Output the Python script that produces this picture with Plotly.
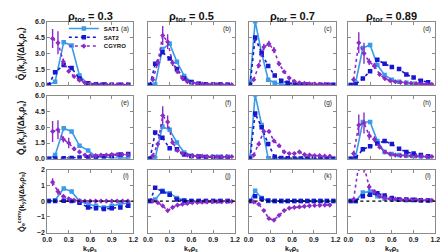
import plotly.graph_objects as go

W, H = 448, 252

RHO = ["0.3", "0.5", "0.7", "0.89"]
PANEL_LABELS = ["(a)", "(b)", "(c)", "(d)", "(e)", "(f)", "(g)", "(h)", "(i)", "(j)", "(k)", "(l)"]
XTICKS = [0.0, 0.3, 0.6, 0.9, 1.2]
YTICKS_Q = [0.0, 1.5, 3.0, 4.5, 6.0]
YTICKS_C = [-2, -1, 0, 1, 2]

# ky grids (SAT models and CGYRO) per radius
KY_SAT_03 = [0.02, 0.11, 0.23, 0.34, 0.45, 0.57, 0.68, 0.79, 0.90, 1.02, 1.13]
KY_SAT_05 = [0.03, 0.10, 0.20, 0.30, 0.40, 0.50, 0.60, 0.70, 0.80, 0.90, 1.00, 1.10]
KY_SAT_07 = [0.02, 0.09, 0.18, 0.27, 0.36, 0.45, 0.54, 0.63, 0.72, 0.81, 0.90, 0.99, 1.08, 1.17]
KY_SAT_089 = [0.03, 0.10, 0.20, 0.30, 0.40, 0.50, 0.60, 0.70, 0.80, 0.90, 1.00, 1.10]

KY_CG_03 = [0.075, 0.15, 0.225, 0.30, 0.375, 0.45, 0.525, 0.60, 0.675, 0.75, 0.825, 0.90, 0.975, 1.05, 1.125]
KY_CG_05 = [0.068, 0.136, 0.204, 0.272, 0.34, 0.408, 0.476, 0.544, 0.612, 0.68, 0.748, 0.816, 0.884, 0.952, 1.02, 1.088, 1.156]
KY_CG_07 = [0.07, 0.14, 0.21, 0.28, 0.35, 0.42, 0.49, 0.56, 0.63, 0.70, 0.77, 0.84, 0.91, 0.98, 1.05, 1.12]
KY_CG_089 = [0.072, 0.144, 0.216, 0.288, 0.36, 0.432, 0.504, 0.576, 0.648, 0.72, 0.792, 0.864, 0.936, 1.008, 1.08, 1.152]

# ---- Row 1: Qi ----
QI_SAT1_03 = [0, 0.3, 4.05, 3.75, 0.9, 0.05, 0.02, 0.01, 0.0, 0.0, 0.0]
QI_SAT2_03 = [0, 1.2, 1.9, 1.6, 0.6, 0.15, 0.06, 0.03, 0.02, 0.01, 0.01]
QI_CG_03 = [4.4, 4.0, 2.2, 1.3, 0.8, 0.45, 0.2, 0.1, 0.05, 0.04, 0.03, 0.03, 0.02, 0.02, 0.02]
QI_CGE_03 = [0.9, 1.1, 0.3, 0.2, 0.15, 0.1, 0.05, 0.03, 0.02, 0.02, 0.02, 0.02, 0.02, 0.02, 0.02]

QI_SAT1_05 = [0, 0.05, 3.4, 3.9, 2.2, 0.85, 0.3, 0.12, 0.06, 0.04, 0.03, 0.02]
QI_SAT2_05 = [0, 2.0, 3.1, 2.5, 1.5, 0.6, 0.25, 0.1, 0.06, 0.04, 0.03, 0.02]
QI_CG_05 = [0.5, 2.1, 4.7, 4.1, 2.1, 1.25, 0.65, 0.3, 0.15, 0.1, 0.08, 0.06, 0.05, 0.04, 0.03, 0.03, 0.02]
QI_CGE_05 = [0.1, 0.3, 0.9, 0.7, 0.3, 0.2, 0.1, 0.05, 0.03, 0.02, 0.02, 0.02, 0.02, 0.02, 0.02, 0.02, 0.02]

QI_SAT1_07 = [0.3, 6.05, 3.0, 0.5, 0.2, 0.05, 0.02, 0.01, 0.0, 0.0, 0.0, 0.0, 0.0, 0.0]
QI_SAT2_07 = [0, 4.5, 3.0, 1.8, 0.9, 0.4, 0.2, 0.1, 0.05, 0.03, 0.02, 0.02, 0.01, 0.01]
QI_CG_07 = [0.5, 1.85, 3.6, 3.9, 3.3, 2.0, 1.25, 0.65, 0.35, 0.2, 0.15, 0.1, 0.08, 0.06, 0.05, 0.04]
QI_CGE_07 = [0.05, 0.2, 0.3, 0.3, 0.3, 0.2, 0.1, 0.08, 0.05, 0.03, 0.02, 0.02, 0.02, 0.02, 0.02, 0.02]

QI_SAT1_089 = [0, 0.2, 3.5, 3.8, 1.9, 0.95, 0.5, 0.3, 0.2, 0.12, 0.08, 0.05]
QI_SAT2_089 = [0, 0.05, 0.6, 1.3, 2.4, 2.0, 1.7, 1.5, 1.0, 0.7, 0.4, 0.25]
QI_CG_089 = [0.5, 4.0, 3.0, 2.2, 1.8, 1.0, 0.6, 0.4, 0.3, 0.25, 0.2, 0.15, 0.12, 0.1, 0.08, 0.06]
QI_CGE_089 = [0.1, 1.0, 1.0, 0.3, 0.3, 0.15, 0.1, 0.05, 0.03, 0.03, 0.02, 0.02, 0.02, 0.02, 0.02, 0.02]

# ---- Row 2: Qe ----
QE_SAT1_03 = [0, 0.35, 2.9, 2.6, 1.25, 0.8, 0.2, 0.12, 0.1, 0.08, 0.06]
QE_SAT2_03 = [0, 0.02, 0.05, 0.08, 0.12, 0.15, 0.2, 0.25, 0.3, 0.4, 0.45]
QE_CG_03 = [2.6, 2.75, 1.85, 1.5, 0.95, 0.65, 0.35, 0.3, 0.3, 0.35, 0.35, 0.4, 0.4, 0.4, 0.4]
QE_CGE_03 = [1.0, 0.9, 0.3, 0.5, 0.2, 0.15, 0.1, 0.05, 0.05, 0.05, 0.05, 0.05, 0.05, 0.05, 0.05]

QE_SAT1_05 = [0, 0.05, 3.05, 2.75, 1.55, 0.6, 0.3, 0.25, 0.2, 0.2, 0.2, 0.2]
QE_SAT2_05 = [0, 2.5, 2.0, 1.0, 0.9, 0.4, 0.25, 0.2, 0.15, 0.12, 0.1, 0.1]
QE_CG_05 = [0.3, 1.4, 4.1, 3.5, 1.55, 0.8, 0.5, 0.35, 0.3, 0.25, 0.25, 0.22, 0.2, 0.2, 0.2, 0.2, 0.2]
QE_CGE_05 = [0.05, 0.2, 0.9, 0.6, 0.2, 0.1, 0.05, 0.05, 0.03, 0.03, 0.03, 0.03, 0.03, 0.03, 0.03, 0.03, 0.03]

QE_SAT1_07 = [0.2, 6.1, 3.2, 0.05, 0.02, 0.01, 0.0, 0.0, 0.0, 0.0, 0.0, 0.0, 0.0, 0.0]
QE_SAT2_07 = [0, 4.3, 3.0, 1.4, 0.2, 0.08, 0.05, 0.03, 0.02, 0.02, 0.02, 0.01, 0.01, 0.01]
QE_CG_07 = [0.35, 1.4, 2.6, 2.6, 1.7, 1.25, 0.65, 0.5, 0.5, 0.65, 0.4, 0.35, 0.3, 0.3, 0.25, 0.25]
QE_CGE_07 = [0.05, 0.1, 0.15, 0.15, 0.15, 0.1, 0.05, 0.05, 0.05, 0.05, 0.03, 0.03, 0.03, 0.03, 0.03, 0.03]

QE_SAT1_089 = [0, 0.2, 3.5, 3.5, 1.7, 0.65, 0.45, 0.35, 0.3, 0.25, 0.2, 0.15]
QE_SAT2_089 = [0, 0.05, 0.9, 1.2, 1.45, 1.7, 1.4, 0.95, 0.65, 0.5, 0.35, 0.25]
QE_CG_089 = [0.5, 3.2, 3.4, 2.2, 1.85, 1.1, 0.65, 0.45, 0.35, 0.3, 0.3, 0.28, 0.25, 0.25, 0.22, 0.2]
QE_CGE_089 = [0.1, 1.0, 1.0, 0.4, 0.3, 0.15, 0.1, 0.05, 0.03, 0.03, 0.03, 0.03, 0.03, 0.03, 0.03, 0.03]

# ---- Row 3: Qe conv ----
QC_SAT1_03 = [0, 0.05, 0.8, 0.6, 0.0, -0.2, -0.3, -0.4, -0.3, -0.2, -0.1]
QC_SAT2_03 = [0, 0.0, 0.02, 0.0, -0.1, -0.4, -0.45, -0.5, -0.45, -0.4, -0.3]
QC_CG_03 = [1.2, 0.6, 0.3, 0.15, 0.05, 0.02, 0.0, 0.0, 0.0, 0.0, 0.0, 0.0, 0.0, 0.0, 0.0]
QC_CGE_03 = [0.25, 0.2, 0.1, 0.05, 0.03, 0.02, 0.02, 0.02, 0.02, 0.02, 0.02, 0.02, 0.02, 0.02, 0.02]

QC_SAT1_05 = [0, 0.1, 0.65, 0.5, 0.2, 0.05, 0.0, 0.0, 0.0, 0.0, 0.0, 0.0]
QC_SAT2_05 = [0, 0.85, 0.6, 0.4, 0.1, 0.02, 0.0, 0.0, 0.0, 0.0, 0.0, 0.0]
QC_CG_05 = [0.0, -0.1, -0.3, -0.6, -0.4, -0.25, -0.2, -0.15, -0.1, -0.08, -0.06, -0.05, -0.04, -0.03, -0.03, -0.02, -0.02]
QC_CGE_05 = [0.02, 0.03, 0.05, 0.08, 0.05, 0.03, 0.02, 0.02, 0.02, 0.02, 0.02, 0.02, 0.02, 0.02, 0.02, 0.02, 0.02]

QC_SAT1_07 = [0, 0.65, 0.2, 0.0, 0.0, 0.0, 0.0, 0.0, 0.0, 0.0, 0.0, 0.0, 0.0, 0.0]
QC_SAT2_07 = [0, 0.3, 0.15, 0.03, 0.0, 0.0, 0.0, 0.0, 0.0, 0.0, 0.0, 0.0, 0.0, 0.0]
QC_CG_07 = [-0.05, -0.2, -0.6, -1.1, -1.2, -0.9, -0.6, -0.45, -0.4, -0.37, -0.33, -0.3, -0.28, -0.27, -0.25, -0.25]
QC_CGE_07 = [0.02, 0.03, 0.05, 0.08, 0.08, 0.05, 0.04, 0.03, 0.02, 0.02, 0.02, 0.02, 0.02, 0.02, 0.02, 0.02]

QC_SAT1_089 = [0, 0.0, 0.55, 0.6, 0.3, 0.15, 0.1, 0.08, 0.05, 0.05, 0.04, 0.03]
QC_SAT2_089 = [0, 0.0, 0.3, 0.4, 0.5, 0.35, 0.2, 0.1, 0.1, 0.08, 0.05, 0.04]
QC_CG_089 = [0.1, 2.3, 2.2, 0.9, 0.6, 0.3, 0.2, 0.15, 0.12, 0.1, 0.1, 0.08, 0.08, 0.06, 0.05, 0.05]
QC_CGE_089 = [0.05, 0.4, 0.4, 0.2, 0.1, 0.05, 0.04, 0.03, 0.03, 0.03, 0.03, 0.03, 0.03, 0.03, 0.03, 0.03]

KY_SAT = [KY_SAT_03, KY_SAT_05, KY_SAT_07, KY_SAT_089]
KY_CG = [KY_CG_03, KY_CG_05, KY_CG_07, KY_CG_089]
SAT1 = [[QI_SAT1_03, QI_SAT1_05, QI_SAT1_07, QI_SAT1_089],
        [QE_SAT1_03, QE_SAT1_05, QE_SAT1_07, QE_SAT1_089],
        [QC_SAT1_03, QC_SAT1_05, QC_SAT1_07, QC_SAT1_089]]
SAT2 = [[QI_SAT2_03, QI_SAT2_05, QI_SAT2_07, QI_SAT2_089],
        [QE_SAT2_03, QE_SAT2_05, QE_SAT2_07, QE_SAT2_089],
        [QC_SAT2_03, QC_SAT2_05, QC_SAT2_07, QC_SAT2_089]]
CG = [[QI_CG_03, QI_CG_05, QI_CG_07, QI_CG_089],
      [QE_CG_03, QE_CG_05, QE_CG_07, QE_CG_089],
      [QC_CG_03, QC_CG_05, QC_CG_07, QC_CG_089]]
CGE = [[QI_CGE_03, QI_CGE_05, QI_CGE_07, QI_CGE_089],
       [QE_CGE_03, QE_CGE_05, QE_CGE_07, QE_CGE_089],
       [QC_CGE_03, QC_CGE_05, QC_CGE_07, QC_CGE_089]]

C_SAT1 = "#3a9be8"
C_SAT2 = "#1717d0"
C_CG = "#8b2bc8"
AX = "#8a8a8a"
FONT = "Liberation Sans"

XDOM = [(35, 123), (138, 227), (241, 330), (343, 432)]
YDOM = [(10, 75), (86, 151), (162, 227)]
LEG_Y = [17, 26, 35]

fig = go.Figure()
layout = dict(width=W, height=H, margin=dict(l=0, r=0, t=0, b=0),
              paper_bgcolor="white", plot_bgcolor="white", showlegend=True)
annotations = []
shapes = []

for r in range(3):
    for c in range(4):
        i = r * 4 + c + 1
        xa = "x" if i == 1 else f"x{i}"
        ya = "y" if i == 1 else f"y{i}"
        first = (i == 1)
        fig.add_trace(go.Scatter(
            x=KY_SAT[c], y=SAT1[r][c], xaxis=xa, yaxis=ya, name="SAT1",
            mode="lines+markers", showlegend=first, legend="legend",
            line=dict(color=C_SAT1, width=1.6),
            marker=dict(symbol="square", size=4.5, color=C_SAT1)))
        fig.add_trace(go.Scatter(
            x=KY_SAT[c], y=SAT2[r][c], xaxis=xa, yaxis=ya, name="SAT2",
            mode="lines+markers", showlegend=first, legend="legend2",
            line=dict(color=C_SAT2, width=1.6, dash="dot"),
            marker=dict(symbol="square", size=4.5, color=C_SAT2)))
        fig.add_trace(go.Scatter(
            x=KY_CG[c], y=CG[r][c], xaxis=xa, yaxis=ya, name="CGYRO",
            mode="lines+markers", showlegend=first, legend="legend3",
            line=dict(color=C_CG, width=1.6, dash="dot"),
            marker=dict(symbol="diamond", size=4, color=C_CG),
            error_y=dict(type="data", array=CGE[r][c], color=C_CG, thickness=1.4, width=0)))

        xd = [XDOM[c][0] / W, XDOM[c][1] / W]
        yd = [1 - YDOM[r][1] / H, 1 - YDOM[r][0] / H]
        common = dict(showline=True, mirror="ticks", linecolor=AX, linewidth=1,
                      ticks="inside", ticklen=3, tickcolor=AX, showgrid=False,
                      zeroline=False,
                      tickfont=dict(family=FONT, size=7, color="#222", weight="bold"))
        layout["xaxis" if i == 1 else f"xaxis{i}"] = dict(
            common, domain=xd, anchor=ya, range=[0, 1.2], tickvals=XTICKS,
            tickformat=".1f", showticklabels=(r == 2))
        if r < 2:
            layout["yaxis" if i == 1 else f"yaxis{i}"] = dict(
                common, domain=yd, anchor=xa, range=[0, 6], tickvals=YTICKS_Q,
                tickformat=".1f", showticklabels=(c == 0))
        else:
            layout["yaxis" if i == 1 else f"yaxis{i}"] = dict(
                common, domain=yd, anchor=xa, range=[-2, 2], tickvals=YTICKS_C,
                tickformat="d", showticklabels=(c == 0))
            shapes.append(dict(type="line", xref=f"{xa} domain", yref=ya,
                               x0=0, x1=1, y0=0, y1=0,
                               line=dict(color="black", width=1.2, dash="dot")))
        annotations.append(dict(text=PANEL_LABELS[i - 1], xref="paper", yref="paper",
                                x=(XDOM[c][1] - 2) / W, y=1 - (YDOM[r][0] + 1) / H,
                                xanchor="right", yanchor="top", showarrow=False,
                                font=dict(family=FONT, size=6.5, color="#222")))

for c in range(4):
    annotations.append(dict(text=f"<b>ρ<sub>tor</sub> = {RHO[c]}</b>", xref="paper", yref="paper",
                            x=(XDOM[c][0] + XDOM[c][1]) / 2 / W, y=1 - 5 / H,
                            xanchor="center", yanchor="middle", showarrow=False,
                            font=dict(family=FONT, size=11, color="#111")))
    annotations.append(dict(text="<b>k<sub>y</sub>ρ<sub>s</sub></b>", xref="paper", yref="paper",
                            x=(XDOM[c][0] + XDOM[c][1]) / 2 / W, y=1 - 250 / H,
                            xanchor="center", yanchor="bottom", showarrow=False,
                            font=dict(family=FONT, size=7, color="#111")))

YTITLES = ["<b>Q\u0302<sub>i</sub>(k<sub>y</sub>)/(Δk<sub>y</sub>ρ<sub>s</sub>)</b>",
           "<b>Q\u0302<sub>e</sub>(k<sub>y</sub>)/(Δk<sub>y</sub>ρ<sub>s</sub>)</b>",
           "<b>Q\u0302<sub>e</sub><sup>conv</sup>(k<sub>y</sub>)/(Δk<sub>y</sub>ρ<sub>s</sub>)</b>"]
YTSIZE = [8.5, 8.5, 7.5]
for r in range(3):
    annotations.append(dict(text=YTITLES[r], xref="paper", yref="paper",
                            x=8 / W, y=1 - (YDOM[r][0] + YDOM[r][1]) / 2 / H,
                            xanchor="center", yanchor="middle", textangle=-90,
                            showarrow=False, font=dict(family=FONT, size=YTSIZE[r], color="#111")))

layout["annotations"] = annotations
layout["shapes"] = shapes
for k, name in enumerate(["legend", "legend2", "legend3"]):
    layout[name] = dict(x=52 / W, y=1 - LEG_Y[k] / H, xanchor="left", yanchor="middle",
                        bgcolor="rgba(0,0,0,0)", borderwidth=0, itemwidth=30,
                        font=dict(family=FONT, size=6, color="#111", weight="bold"))
fig.update_layout(**layout)
fig.write_html("out.html")
